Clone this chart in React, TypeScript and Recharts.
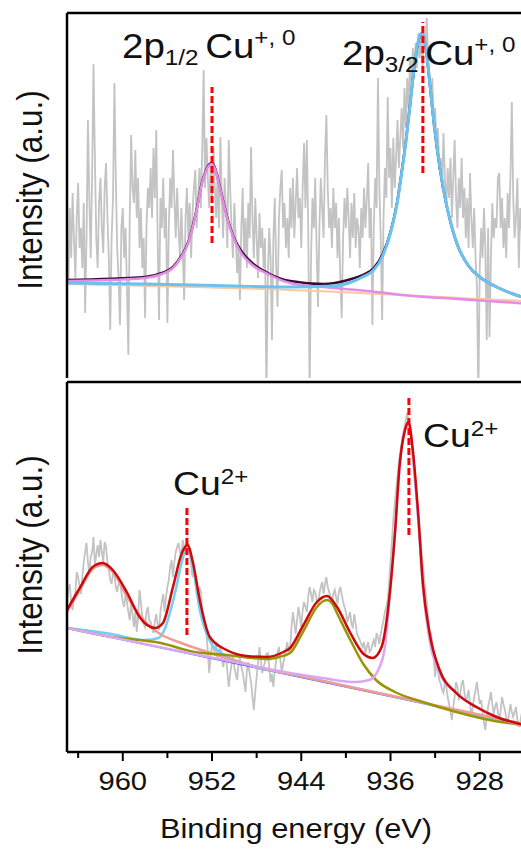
import { ComposedChart, Line, ReferenceLine, XAxis, YAxis } from "recharts";

const FONT = '"Liberation Sans", Arial, Helvetica, sans-serif';

// raw spectra, sampled every 0.125 eV from 965 eV downwards (heights in a.u.)
const E_START = 965;
const E_STEP = 0.125;

const topRaw = [
  130, 95, 170, 120, 185, 140, 100, 160, 195, 130,
  150, 110, 175, 65, 140, 258, 180, 120, 200, 314,
  220, 140, 110, 175, 200, 150, 125, 190, 215, 160,
  120, 48, 140, 180, 295, 200, 130, 100, 53, 150,
  170, 120, 150, 90, 23, 160, 243, 190, 175, 228,
  160, 200, 130, 170, 110, 140, 60, 150, 190, 170,
  210, 160, 230, 180, 248, 140, 58, 180, 150, 200,
  140, 170, 55, 150, 200, 170, 228, 180, 140, 190,
  150, 120, 170, 130, 78, 160, 190, 140, 175, 120,
  165, 190, 208, 150, 180, 210, 170, 230, 308, 190,
  240, 200, 170, 215, 180, 230, 190, 160, 205, 150,
  241, 180, 140, 200, 170, 130, 238, 190, 150, 120,
  175, 140, 105, 130, 78, 150, 190, 120, 160, 110,
  175, 140, 231, 160, 120, 180, 140, 100, 165, 130,
  150, 110, 140, -20, 100, 150, 120, 38, 140, 180,
  110, 71, 160, 190, 208, 150, 175, 130, 160, 120,
  190, 150, 200, 140, 175, 210, 160, 180, 130, 190,
  235, 170, 238, 150, -20, 120, 180, 150, 200, 130,
  71, 150, 200, 170, 140, 220, 263, 190, 150, 170,
  130, 190, 150, 175, 120, 160, 100, 60, 140, 180,
  150, 190, 160, 120, 175, 140, 185, 130, 160, 150,
  110, 170, 140, 190, 150, 180, 215, 140, 170, 53,
  150, 200, 170, 300, 190, 140, 58, 160, 210, 180,
  281, 200, 230, 170, 240, 190, 220, 258, 210, 240,
  270, 230, 290, 250, 300, 270, 320, 290, 330, 300,
  335, 310, 345, 320, 340, 310, 345, 330, 360, 320,
  300, 280, 300, 250, 270, 230, 250, 208, 220, 190,
  245, 200, 170, 210, 180, 220, 160, 200, 238, 180,
  150, 200, 170, 220, 160, 190, 140, 180, 130, 205,
  160, 130, 170, 120, 90, -20, 110, 150, 120, 170,
  130, 38, 150, 41, 120, 175, 140, 160, 150, 200,
  205, 150, 180, 130, 160, 120, 185, 150, 200, 276,
  180, 140, 161, 200, 110, 170, 150, 130, 160,
];

const bottomRaw = [
  150, 162, 168, 150, 142, 155, 160, 180, 175, 165, 158, 175, 190, 200, 209, 190, 178, 195, 200, 215,
  186, 198, 207, 195, 212, 200, 190, 210, 205, 190, 182, 172, 168, 180, 176, 165, 160, 168, 172, 160,
  150, 145, 158, 150, 140, 132, 150, 138, 125, 140, 120, 135, 162, 150, 135, 128, 125, 140, 145, 132,
  130, 125, 119, 130, 138, 128, 122, 140, 150, 158, 140, 155, 165, 172, 185, 192, 175, 190, 200, 205,
  209, 200, 196, 212, 205, 198, 210, 204, 198, 188, 175, 182, 169, 160, 152, 165, 160, 140, 129, 125,
  118, 100, 79, 95, 110, 102, 100, 110, 92, 98, 105, 95, 85, 92, 98, 80, 65, 78, 88, 95,
  85, 78, 72, 88, 95, 85, 80, 70, 60, 82, 90, 78, 70, 55, 42, 60, 75, 90, 105, 92,
  79, 85, 90, 98, 99, 85, 70, 78, 65, 80, 92, 100, 105, 92, 80, 88, 95, 102, 110, 100,
  102, 125, 140, 130, 118, 132, 145, 135, 125, 142, 150, 145, 140, 155, 165, 158, 150, 162, 160, 152,
  148, 158, 165, 170, 158, 168, 175, 165, 160, 155, 150, 158, 162, 155, 148, 160, 165, 158, 150, 145,
  140, 130, 135, 140, 128, 125, 138, 128, 118, 115, 112, 108, 105, 110, 99, 105, 110, 100, 102, 108,
  112, 105, 119, 115, 108, 118, 125, 132, 140, 145, 152, 170, 190, 210, 232, 248, 262, 275, 290, 300,
  309, 318, 325, 332, 339, 330, 320, 312, 300, 282, 265, 252, 240, 222, 205, 190, 175, 162, 150, 135,
  122, 118, 110, 95, 75, 90, 82, 72, 68, 62, 59, 70, 65, 55, 48, 40, 32, 45, 55, 70,
  65, 52, 58, 68, 72, 60, 50, 55, 62, 48, 35, 45, 55, 62, 70, 58, 48, 52, 40, 30,
  22, 35, 45, 52, 60, 48, 38, 45, 50, 40, 30, 42, 55, 48, 42, 35, 28, 38, 48, 40,
  35, 40, 45, 32, 25, 30, 38, 35, 30,
];

// top panel fits: Cu+/Cu0
const topPinkE = [965, 961, 958, 956.5, 955.5, 954.7, 954.2, 953.7, 953.3, 953.0, 952.6, 952.3, 952.0, 951.7, 951.4, 951.0, 950.6, 950.1, 949.5, 948.5, 947.0, 945.0, 942, 938, 934, 930, 926, 920];
const topPinkV = [97, 98, 100, 104, 110, 122, 133, 152, 172, 190, 205, 212, 214, 208, 195, 176, 158, 141, 127, 114, 104, 95, 91, 87, 82, 79, 76, 72];

const topCyanE = [965, 958, 950, 945, 941, 939.5, 938.5, 937.5, 936.7, 936.0, 935.4, 935.0, 934.6, 934.2, 933.8, 933.5, 933.2, 932.9, 932.6, 932.2, 931.8, 931.3, 930.8, 930.0, 929.0, 928.0, 926.5, 925.0, 920];
const topCyanV = [95, 94, 92, 91, 92, 96, 101, 108, 122, 145, 175, 205, 238, 278, 318, 338, 345, 336, 308, 265, 228, 192, 164, 133, 112, 101, 91, 84, 72];

const topSumE = [965, 958, 956.5, 955.5, 954.7, 954.2, 953.7, 953.3, 953.0, 952.6, 952.3, 952.0, 951.7, 951.4, 951.0, 950.6, 950.1, 949.5, 948.5, 947.0, 945.0, 942, 941, 939.5, 938.5, 937.5, 936.7, 936.0, 935.4, 935.0, 934.6, 934.2, 933.8, 933.5, 933.2, 932.9, 932.6, 932.2, 931.8, 931.3, 930.8, 930.0, 929.0, 928.0, 926.5, 925.0, 920];
const topSumV = [98, 101, 105, 111, 123, 134, 153, 173, 191, 206, 213, 215, 209, 196, 177, 159, 142, 129, 116, 105, 97, 94, 95, 99, 103, 110, 124, 146, 176, 206, 239, 278, 317, 337, 344, 335, 307, 264, 227, 191, 164, 133, 112, 101, 91, 84, 72];

const topShirleyE = [965, 945, 924, 920];
const topShirleyV = [94, 88, 77, 75];

// bottom panel fits: Cu2+ with satellites
const botBaseE = [965, 945, 924.4, 920];
const botBaseV = [124, 77, 28, 18];

const botSalmonE = [965, 963.8, 962.7, 961.8, 960.9, 959.6, 958.5, 957.5, 956.5, 955, 953.5, 951, 948, 945, 940, 935, 930, 924.4, 920];
const botSalmonV = [140, 163, 183, 187, 180, 155, 137, 125, 117, 110, 104, 95, 85, 78, 66, 54, 42, 29, 19];

const botCyanE = [965, 961, 958, 956.8, 956.2, 955.7, 955.2, 954.8, 954.5, 954.2, 953.9, 953.6, 953.1, 952.6, 952.1, 951.4, 950.6, 949, 947, 945, 940, 935, 930, 924.4, 920];
const botCyanV = [124, 118, 112, 114, 124, 142, 165, 186, 198, 202, 194, 178, 142, 122, 109, 101, 95, 88, 82, 78, 66, 54, 41, 28, 18];

const botOliveE = [965, 961, 956.6, 953.6, 950.7, 948.5, 947.0, 946.0, 945.0, 943.9, 942.6, 942.0, 941.7, 941.2, 940.8, 939.6, 938.5, 937.3, 935.6, 933.1, 930.1, 927.1, 924.4, 920];
const botOliveV = [124, 115, 109, 100, 97, 94, 93, 95, 99, 119, 145, 151, 152, 148, 139, 112, 89, 72, 60, 50, 40, 32, 27, 18];

const botLavenderE = [965, 955, 950, 945, 942.1, 939.1, 937.9, 937.1, 936.5, 936.1, 935.6, 935.2, 934.6, 934.3, 934.0, 933.5, 933.1, 932.5, 931.6, 930.1, 928.3, 926.5, 924.4, 920];
const botLavenderV = [124, 101, 90, 79, 74, 70, 72, 82, 105, 152, 219, 282, 325, 327, 295, 229, 165, 112, 79, 59, 45, 35, 27, 18];

const botSumE = [965, 963.8, 962.7, 961.8, 960.9, 959.6, 958.5, 957.1, 956.4, 955.5, 954.7, 954.2, 953.7, 953.1, 952.2, 950.7, 948.9, 947.1, 945.6, 945.0, 943.9, 942.6, 941.7, 940.8, 939.6, 938.5, 937.6, 936.8, 936.2, 935.6, 935.2, 934.7, 934.4, 934.0, 933.5, 933.1, 932.5, 931.6, 930.1, 928.3, 926.5, 924.4, 920];
const botSumV = [142, 165, 185, 189, 182, 159, 135, 124, 129, 165, 199, 207, 189, 152, 115, 102, 96, 95, 100, 104, 125, 150, 156, 145, 119, 99, 94, 105, 145, 219, 285, 322, 330, 302, 235, 169, 119, 82, 59, 45, 35, 28, 18];

// dashed peak markers: energy, lower and upper height
const topMarks = [
  { e: 952.0, from: 135, to: 291 },
  { e: 933.1, from: 205, to: 356 },
];
const botMarks = [
  { e: 954.25, from: 117, to: 244 },
  { e: 934.35, from: 217, to: 354 },
];

const allTicks = [964, 960, 956, 952, 948, 944, 940, 936, 932, 928, 924];
const labelTicks = [960, 952, 944, 936, 928];

const X_DOMAIN: [number, number] = [920, 965];
const CHART_W = 579;

const pts = (es: number[], vs: number[]) => es.map((e, i) => ({ e, v: vs[i] }));
const rawPts = (vs: number[]) => vs.map((v, i) => ({ e: E_START - i * E_STEP, v }));

const axisLine = { stroke: "#000", strokeWidth: 2.5 };

function EnergyTick(props: any) {
  const { x, y, payload } = props;
  const major = labelTicks.includes(payload.value);
  return (
    <g transform={`translate(${x},${y})`}>
      <line x1={0} x2={0} y1={0} y2={major ? 9 : 6} stroke="#000" strokeWidth={2} />
      {major && (
        <text
          transform="scale(1.1,1)"
          y={38}
          textAnchor="middle"
          fontSize={26.5}
          fontFamily={FONT}
          fill="#111"
        >
          {payload.value}
        </text>
      )}
    </g>
  );
}

function fit(data: { e: number; v: number }[], color: string, width: number, type: "monotone" | "linear" = "monotone") {
  return (
    <Line
      data={data}
      dataKey="v"
      type={type}
      stroke={color}
      strokeWidth={width}
      dot={false}
      activeDot={false}
      isAnimationActive={false}
    />
  );
}

function marks(list: { e: number; from: number; to: number }[]) {
  return list.map((m) => (
    <ReferenceLine
      key={m.e}
      segment={[
        { x: m.e, y: m.from },
        { x: m.e, y: m.to },
      ]}
      stroke="#ff0000"
      strokeWidth={3}
      strokeDasharray="7 3"
    />
  ));
}

// axes get 1px so recharts still draws their lines
function TopPanel() {
  return (
    <ComposedChart width={CHART_W} height={380} margin={{ top: 12, bottom: 2, left: 66, right: 10 }}>
      <XAxis
        type="number"
        dataKey="e"
        domain={X_DOMAIN}
        reversed
        allowDataOverflow
        orientation="top"
        height={1}
        tick={false}
        tickLine={false}
        axisLine={axisLine}
      />
      <YAxis type="number" domain={[0, 365]} allowDataOverflow width={1} tick={false} tickLine={false} axisLine={axisLine} />
      {fit(rawPts(topRaw), "#c3c3c3", 1.8, "linear")}
      {fit(pts(topShirleyE, topShirleyV), "#f6c9a2", 2)}
      {fit(pts(topSumE, topSumV), "#3b0b30", 2.5)}
      {fit(pts(topPinkE, topPinkV), "#e48ce6", 2.5)}
      {fit(pts(topCyanE, topCyanV), "#6cc2ee", 3)}
      {marks(topMarks)}
    </ComposedChart>
  );
}

function BottomPanel() {
  return (
    <ComposedChart width={CHART_W} height={469} margin={{ top: 1, bottom: 96, left: 66, right: 10 }}>
      <XAxis
        type="number"
        dataKey="e"
        domain={X_DOMAIN}
        reversed
        allowDataOverflow
        height={1}
        ticks={allTicks}
        interval={0}
        tickSize={0}
        tickMargin={0}
        tick={<EnergyTick />}
        tickLine={false}
        axisLine={axisLine}
      />
      <XAxis
        xAxisId="top"
        type="number"
        dataKey="e"
        domain={X_DOMAIN}
        reversed
        allowDataOverflow
        orientation="top"
        height={1}
        tick={false}
        tickLine={false}
        axisLine={axisLine}
      />
      <YAxis type="number" domain={[0, 370]} allowDataOverflow width={1} tick={false} tickLine={false} axisLine={axisLine} />
      {fit(rawPts(bottomRaw), "#c3c3c3", 1.8, "linear")}
      {fit(pts(botBaseE, botBaseV), "#4b4bef", 1.5, "linear")}
      {fit(pts(botCyanE, botCyanV), "#74cdf4", 2.5)}
      {fit(pts(botSalmonE, botSalmonV), "#f29a96", 2.5)}
      {fit(pts(botOliveE, botOliveV), "#9a9406", 2.5)}
      {fit(pts(botLavenderE, botLavenderV), "#d9a8f4", 2.5)}
      {fit(pts(botSumE, botSumV), "#cc0a0a", 2.5)}
      {marks(botMarks)}
    </ComposedChart>
  );
}

export default function App() {
  return (
    <div
      style={{
        position: "fixed",
        left: 0,
        top: 0,
        width: 521,
        height: 849,
        overflow: "hidden",
        background: "#fff",
      }}
    >
      <div style={{ position: "absolute", left: 0, top: 0 }}>
        <TopPanel />
      </div>
      <div style={{ position: "absolute", left: 0, top: 380 }}>
        <BottomPanel />
      </div>
      <svg
        width={521}
        height={849}
        style={{ position: "absolute", left: 0, top: 0, pointerEvents: "none" }}
        fontFamily={FONT}
        fill="#111"
      >
        <g transform="translate(122,58) scale(1.1,1)">
          <text fontSize={35}>
            2p<tspan fontSize={22} dy={7}>1/2 </tspan>
            <tspan fontSize={35} dy={-7}>Cu</tspan>
            <tspan fontSize={22} dy={-13}>+, 0</tspan>
          </text>
        </g>
        <g transform="translate(342,65) scale(1.1,1)">
          <text fontSize={35}>
            2p<tspan fontSize={22} dy={7}>3/2 </tspan>
            <tspan fontSize={35} dy={-7}>Cu</tspan>
            <tspan fontSize={22} dy={-13}>+, 0</tspan>
          </text>
        </g>
        <g transform="translate(173,495) scale(1.1,1)">
          <text fontSize={34}>
            Cu<tspan fontSize={22} dy={-11}>2+</tspan>
          </text>
        </g>
        <g transform="translate(423,447) scale(1.1,1)">
          <text fontSize={34}>
            Cu<tspan fontSize={22} dy={-11}>2+</tspan>
          </text>
        </g>
        <text transform="translate(42,190) scale(1.1,1) rotate(-90)" textAnchor="middle" fontSize={31.5}>
          Intensity (a.u.)
        </text>
        <text transform="translate(42,555) scale(1.1,1) rotate(-90)" textAnchor="middle" fontSize={31.5}>
          Intensity (a.u.)
        </text>
        <text transform="translate(296,838) scale(1.1,1)" textAnchor="middle" fontSize={28}>
          Binding energy (eV)
        </text>
      </svg>
    </div>
  );
}
